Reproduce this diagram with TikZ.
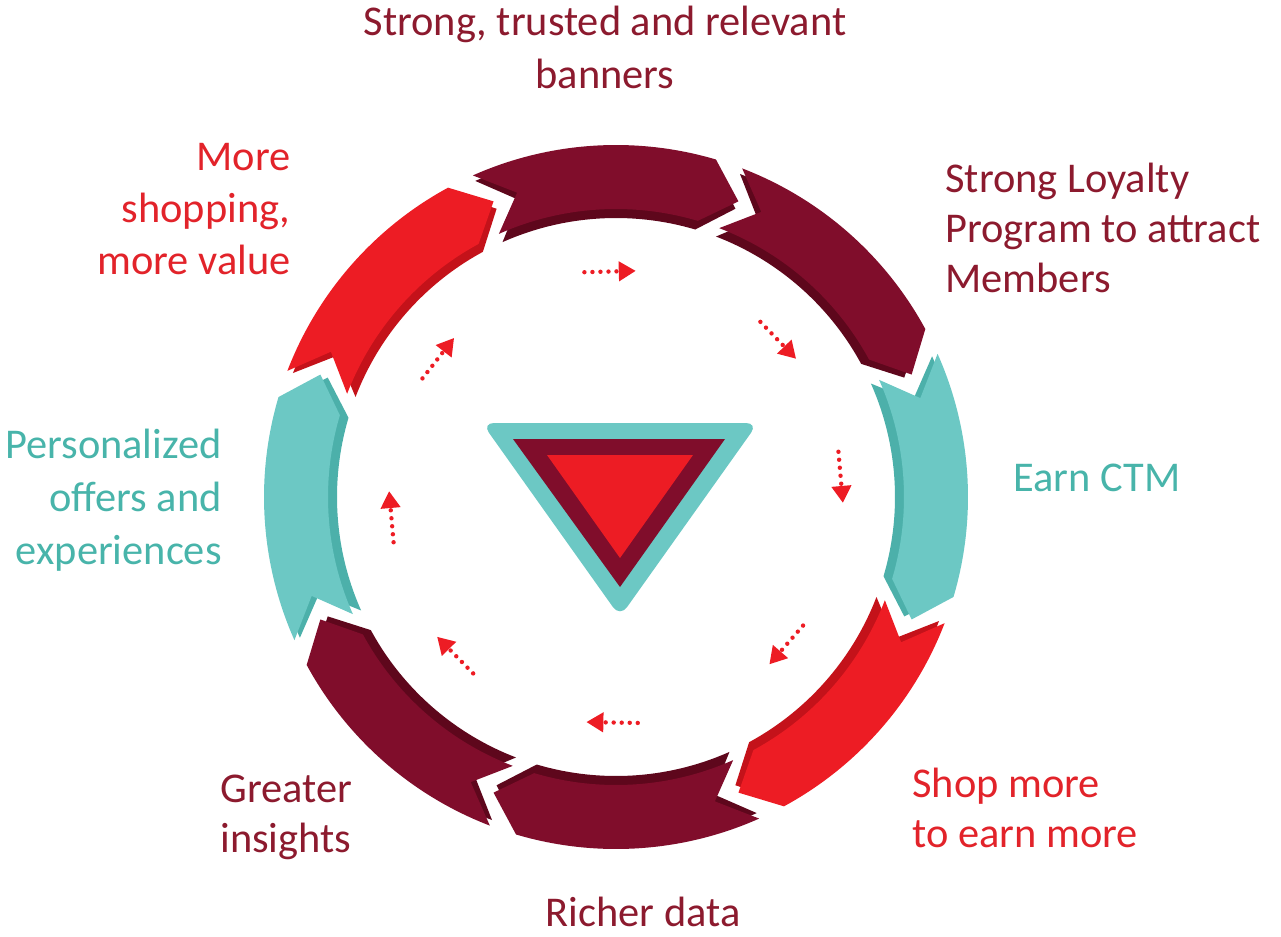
\documentclass[tikz,border=0pt]{standalone}
\usepackage{fontspec}
\setmainfont{Carlito}
\usetikzlibrary{arrows.meta}

% palette
\definecolor{maroonC}{RGB}{128,13,43}
\definecolor{maroonS}{RGB}{94,7,28}
\definecolor{redC}{RGB}{237,28,36}
\definecolor{redS}{RGB}{196,18,26}
\definecolor{tealC}{RGB}{108,200,196}
\definecolor{tealS}{RGB}{76,176,170}
\definecolor{txtMaroon}{RGB}{140,26,46}
\definecolor{txtRed}{RGB}{226,35,42}
\definecolor{txtTeal}{RGB}{72,180,170}

\tikzset{
  lbl/.style={font=\fontsize{21.2}{25}\selectfont, inner sep=0pt},
  flowarrow/.style={draw=redC, line width=2.2pt, line cap=round,
    dash pattern=on 0.01pt off 4pt,
    -{Triangle[length=8.5pt,width=9.5pt]}},
}

% one curved ribbon of the cycle: #1 tail angle, #2 face colour, #3 shade colour
\newcommand\ribbon[3]{%
  \pgfmathsetmacro\rbHead{#1-40.5}%
  \pgfmathsetmacro\rbTip{#1-46.5}%
  \pgfmathsetmacro\rbNotch{#1-6}%
  \fill[#3] (#1:346) arc[start angle=#1, end angle=\rbHead, radius=346]
    -- (\rbTip:312) -- (\rbHead:279)
    arc[start angle=\rbHead, end angle=#1, radius=279]
    -- (\rbNotch:312) -- cycle;
  \fill[#2] (#1:352) arc[start angle=#1, end angle=\rbHead, radius=352]
    -- (\rbTip:320) -- (\rbHead:288)
    arc[start angle=\rbHead, end angle=#1, radius=288]
    -- (\rbNotch:320) -- cycle;
}

\begin{document}
\begin{tikzpicture}[x=0.5pt,y=0.5pt]
\useasboundingbox (0,0) rectangle (1281,-937);

\begin{scope}[shift={(616,-497)}]
  % ring of ribbons, clockwise from the top
  \ribbon{114}{maroonC}{maroonS}
  \ribbon{69}{maroonC}{maroonS}
  \ribbon{24}{tealC}{tealS}
  \ribbon{-21}{redC}{redS}
  \ribbon{-66}{maroonC}{maroonS}
  \ribbon{-111}{maroonC}{maroonS}
  \ribbon{-156}{tealC}{tealS}
  \ribbon{-201}{redC}{redS}

  % small dotted arrows inside the ring
  \foreach \a [evaluate=\a as \s using \a+6.5, evaluate=\a as \e using \a-6.5, count=\i]
      in {91.5,44,5,-41,-91,-135.5,-175,142} {
    \coordinate (fa\i) at (\s:227);
    \coordinate (fb\i) at (\e:227);
    \draw[flowarrow] (fa\i) -- (fb\i);
  }
\end{scope}

% central emblem
\fill[tealC, rounded corners=6] (482,-423) -- (758,-423) -- (620,-617) -- cycle;
\fill[maroonC] (513,-439) -- (725,-439) -- (620,-587) -- cycle;
\fill[redC] (547,-455) -- (693,-455) -- (620,-558) -- cycle;

% labels
\node[lbl, text=txtMaroon, align=center, anchor=north, font=\fontsize{21.2}{26.5}\selectfont]
  (banners) at (605,-6) {Strong, trusted and relevant\\banners};
\node[lbl, text=txtMaroon, align=left, anchor=north west] (loyalty) at (945,-163)
  {Strong Loyalty\\Program to attract\\Members};
\node[lbl, text=txtTeal] (earn) at (1097,-478) {Earn CTM};
\node[lbl, text=txtRed, align=left, anchor=north west] (shop) at (912,-768)
  {Shop more\\to earn more};
\node[lbl, text=txtMaroon, anchor=north] (richer) at (643,-897) {Richer data};
\node[lbl, text=txtMaroon, align=left, anchor=north west] (insights) at (220,-775)
  {Greater\\insights};
\node[lbl, text=txtTeal, align=right, anchor=north east, font=\fontsize{21.2}{26.5}\selectfont]
  (offers) at (222,-429) {Personalized\\offers and\\experiences};
\node[lbl, text=txtRed, align=right, anchor=north east, font=\fontsize{21.2}{26}\selectfont]
  (value) at (291,-143) {More\\shopping,\\more value};
\end{tikzpicture}
\end{document}
